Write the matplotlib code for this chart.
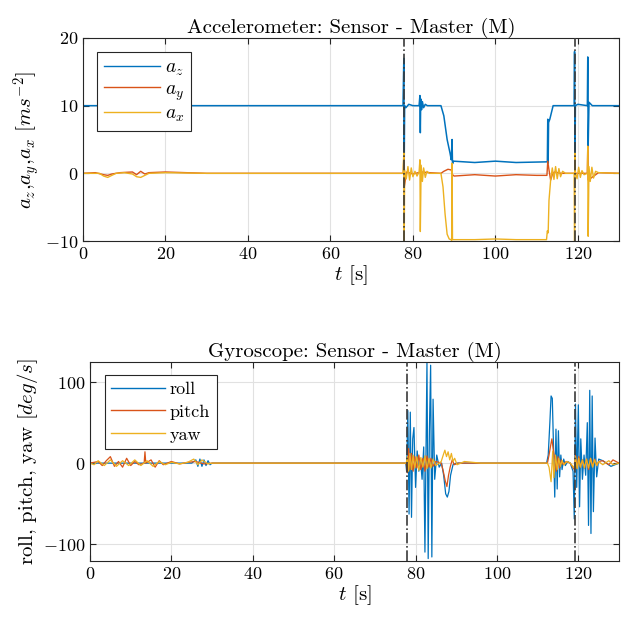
#!/usr/bin/env python3

import matplotlib
matplotlib.use('Agg')
from matplotlib import pyplot as plt


# accelerometer [m/s^2] (time in s)
t_az = [0, 20, 40, 60, 77.6, 77.8, 77.9, 78.0, 78.3, 79, 80, 81.5, 81.7,
        81.8, 81.9, 82.1, 82.3, 82.6, 83.0, 83.5, 86.8, 87.5, 88.3, 89.0,
        89.3, 89.5, 89.6, 89.8, 95, 100, 105, 112.6, 112.7, 112.8, 112.9,
        113.2, 114.0, 116, 119.1, 119.2, 119.3, 119.4, 120.0, 122.3, 122.4,
        122.5, 122.7, 123.5, 130]
az = [10, 10, 10, 10, 10, 17, 2, 10, 9.7, 10.2, 10, 10, 11.5,
      6, 11, 9.4, 10.6, 9.7, 10.2, 10, 10, 8.5, 5, 3,
      2, 5, 1.4, 1.8, 1.6, 1.8, 1.6, 1.7, 8, 1.5, 7.5,
      8, 10, 10, 10, 18, 1, 10, 10.2, 10, 17.2,
      4, 10.5, 10, 10]

t_ay = [0, 3, 5, 6, 7, 9, 12, 13, 14, 15, 16, 20, 25, 30, 77.7, 77.8, 77.9,
        78.5, 80, 82, 84, 86.8, 87.5, 88.5, 89.3, 89.6, 90, 95, 100, 105,
        110, 112.5, 112.7, 113.0, 113.4, 113.8, 114.3, 116, 119.2, 119.3,
        122.3, 122.4, 122.5, 125, 130]
ay = [0, 0.1, -0.2, -0.3, -0.1, 0.1, 0.2, -0.2, 0.3, -0.1, 0.1, 0.2, 0.1,
      0, 0, 3, -2, 0.2, -0.1, 0.2, 0.1, 0, 0.3, 0.6, 0.5, -0.2, -0.4, -0.2,
      -0.4, -0.2, -0.3, -0.3, 1.8, 0.5, -1.0, -0.2, 0.2, 0, 0, 0, 0, 4, -1,
      0.1, 0]

t_ax = [0, 4, 5, 6, 7, 8, 10, 12, 13, 14, 15, 16, 20, 30, 77.6, 77.8, 77.9,
        78.0, 78.4, 78.8, 79.2, 79.6, 80, 80.5, 81, 81.5, 81.7, 81.8, 82.0,
        82.3, 82.6, 83.0, 83.4, 84, 86.8, 87.3, 87.8, 88.3, 88.8, 89.2, 89.4,
        89.5, 89.6, 89.8, 95, 100, 105, 112.4, 112.6, 112.8, 113.0, 113.4,
        113.8, 114.2, 114.6, 115.0, 115.4, 115.8, 116.3, 117, 119.1, 119.2,
        119.3, 119.4, 119.8, 120.2, 120.6, 121, 121.5, 122.3, 122.4, 122.5,
        122.7, 123.0, 123.4, 123.8, 124.3, 125, 130]
ax_ = [0, 0, -0.4, -0.6, -0.3, 0, 0.1, -0.1, -0.5, -0.6, -0.3, 0, 0.1, 0,
       0, 3, -10, 0.5, -0.8, 1.0, -1.0, 0.8, -0.5, 0.3, -0.4, 0.2, 2,
       -8.6, 1.2, -1.2, 0.8, -0.6, 0.3, 0, 0, -2, -6, -9, -9.7, -9.8, -9.9,
       1.5, -9.8, -9.8, -9.8, -9.7, -9.8, -9.8, -8.5, -8.8, -4, -1, 0.8,
       -0.9, 1.0, -0.8, 0.7, -0.5, 0.3, 0, 0, -10, 3, 0.2, -0.8, 0.9,
       -0.6, 0.4, -0.2, 0, 4, -9.3, 1.0, -1.2, 0.9, -0.7, 0.3, 0.1, 0]

# gyroscope [deg/s]
t_roll = [0, 25, 26, 26.5, 27, 27.5, 28, 28.5, 29, 29.5, 30, 77.6, 77.8,
          78.1, 78.4, 78.7, 79.0, 79.3, 79.6, 80.0, 80.4, 80.8, 81.2, 81.6,
          82.0, 82.3, 82.8, 83.1, 83.4, 83.7, 84.0, 84.3, 84.7, 85.2, 85.8,
          86.4, 86.9, 87.4, 87.8, 88.2, 88.6, 89.2, 90, 112.2, 112.6, 113.0,
          113.3, 113.6, 113.9, 114.2, 114.5, 114.8, 115.1, 115.4, 115.7,
          116.0, 116.4, 116.8, 117.4, 118, 118.7, 119.0, 119.3, 119.6, 120.0,
          120.3, 120.6, 121.0, 121.4, 121.8, 122.2, 122.5, 122.8, 123.1,
          123.4, 123.7, 124.1, 124.5, 125, 126, 128, 130]
roll = [0, 0, 4, -4, 5, -4, 4, -3, 3, -2, 0, 0, -10,
        65, -63, 63, -67, 30, 44, -30, 15, -10, 5, -20,
        20, -110, 125, -118, 40, 121, -116, 79, -20, 10, -5,
        0, -15, -38, -42, -35, -15, -2, 0, 0, 10, 50,
        83, 80, 20, -42, 42, -32, 40, -17, 10,
        -8, 5, -3, 2, 0, -10, -69, 73, -30, 72,
        -54, 30, -20, 10, -15, 50, -77, 90, -87,
        83, -60, 31, -17, 5, 3, -4, 0]

t_pitch = [0, 2, 3, 4, 5, 6, 7, 8, 9, 10, 11, 12, 13.3, 13.5, 13.7, 15, 16,
           17, 18, 20, 22, 24, 26, 28, 30, 77.7, 78.0, 78.3, 78.6, 79.0,
           79.4, 79.8, 80.3, 80.8, 81.3, 81.8, 82.3, 82.8, 83.3, 83.8, 84.3,
           85, 86.3, 86.8, 87.3, 87.7, 88.1, 88.5, 89.0, 89.5, 90.5, 112.4,
           112.8, 113.2, 113.5, 113.8, 114.2, 114.6, 115.0, 115.4, 115.8,
           116.3, 117, 118, 119.0, 119.3, 119.7, 120.1, 120.5, 121.0, 121.5,
           122.0, 122.5, 123.0, 123.5, 124.0, 124.5, 125.0, 126, 127.5,
           128.5, 130]
pitch = [0, 2, -3, 3, 8, -4, 2, -5, 6, -3, 2, -2, 0, 14, 0, 4, -5,
         3, -2, 2, -1, 1, 2, -1, 0, 0, -12, 18, -8, 12,
         -10, 8, -6, 10, -8, 6, -10, 9, -5, 6, -4,
         2, 0, -10, -22, -29, -15, -5, 4, -2, 0, 0,
         10, 22, 30, 18, 5, -10, 8, -6, 4,
         -2, 2, 0, -8, 10, -6, 8, -5, 4, -6,
         5, -8, 6, -4, 5, -3, 2, 3, -2,
         4, 0]

t_yaw = [0, 1, 2, 3.5, 5, 6.5, 8, 9.5, 11, 12.5, 14, 15.5, 17, 18.5, 20, 22,
         24, 25.5, 26.5, 27.5, 29, 30, 77.7, 78.0, 78.3, 78.6, 79.0, 79.4,
         79.8, 80.3, 80.8, 81.3, 81.8, 82.3, 82.8, 83.3, 83.8, 84.3, 85,
         86.3, 86.8, 87.2, 87.6, 88.0, 88.4, 88.8, 89.2, 89.6, 90.2, 92, 96,
         100, 112.4, 112.8, 113.3, 113.7, 114.0, 114.4, 114.8, 115.2, 115.6,
         116.0, 116.5, 117.2, 118, 119.0, 119.3, 119.7, 120.1, 120.5, 121.0,
         121.5, 122.0, 122.5, 123.0, 123.5, 124.0, 124.5, 125.0, 126, 127.5,
         128.5, 130]
yaw = [0, -2, 3, -3, 4, -4, 3, -3, 4, -3, 3, -4, 2, -2, 1, -1,
       1, 5, -2, 4, -1, 0, 0, 8, -10, 12, -8, 10,
       -6, 8, -9, 7, -5, 9, -7, 6, -6, 5, -3,
       2, 10, 16, 8, 14, 4, 12, 2, 6, -2, 2, 0,
       0, 0, -5, -23, 15, -18, 10, -8, 6, -4,
       3, -2, 2, 0, -6, 8, -7, 6, -5, 4,
       -6, 5, -6, 6, -5, 4, -3, 2, -2, 3,
       -2, 0]

event_times = [77.9, 119.2]

blue = '#0072BD'
red = '#D95319'
yellow = '#EDB120'

plt.rcParams['font.family'] = 'serif'
plt.rcParams['font.serif'] = ['cmr10']
plt.rcParams['mathtext.fontset'] = 'cm'
plt.rcParams['axes.formatter.use_mathtext'] = True
plt.rcParams['axes.unicode_minus'] = True


def style_axes(ax):
    ax.set_xlim(0, 130)
    ax.grid(True, color='#e1e1e1', linewidth=0.8)
    ax.set_axisbelow(True)
    ax.tick_params(direction='in', top=True, right=True, labelsize=13,
                   color='#262626', length=4)
    for s in ax.spines.values():
        s.set_color('#262626')
        s.set_linewidth(0.8)
    for t in event_times:
        ax.axvline(t, color='#3a3a3a', linestyle='-.', linewidth=1.2, zorder=5)
    ax.set_xlabel(r'$t$ [s]', fontsize=15, labelpad=1)


def add_legend(ax, anchor, size, hlen, spacing):
    leg = ax.legend(loc='upper left', bbox_to_anchor=anchor, fontsize=size,
                    fancybox=False, edgecolor='#262626', framealpha=1,
                    handlelength=hlen, borderpad=0.35, labelspacing=spacing,
                    handletextpad=0.25, borderaxespad=0)
    leg.get_frame().set_linewidth(0.8)
    for line in leg.get_lines():
        line.set_linewidth(1.0)


fig = plt.figure(figsize=(6.3, 6.25), dpi=100)

ax1 = fig.add_axes([0.1317, 0.6144, 0.851, 0.3248])
ax1.plot(t_az, az, color=blue, linewidth=1.1, label=r'$a_z$')
ax1.plot(t_ay, ay, color=red, linewidth=1.0, label=r'$a_y$')
ax1.plot(t_ax, ax_, color=yellow, linewidth=1.0, label=r'$a_x$')
ax1.set_ylim(-10, 20)
ax1.set_yticks([-10, 0, 10, 20])
style_axes(ax1)
ax1.set_title('Accelerometer: Sensor - Master (M)', fontsize=15, pad=4)
ax1.set_ylabel(r'$a_z$,$a_y$,$a_x$ $[ms^{-2}]$', fontsize=15, labelpad=2)
add_legend(ax1, (0.026, 0.931), 14, 2.9, 0.12)

ax2 = fig.add_axes([0.1429, 0.1024, 0.8397, 0.3184])
ax2.plot(t_roll, roll, color=blue, linewidth=0.9, label='roll')
ax2.plot(t_pitch, pitch, color=red, linewidth=0.9, label='pitch')
ax2.plot(t_yaw, yaw, color=yellow, linewidth=0.9, label='yaw')
ax2.set_ylim(-121, 125)
ax2.set_yticks([-100, 0, 100])
style_axes(ax2)
ax2.set_title('Gyroscope: Sensor - Master (M)', fontsize=15, pad=4)
ax2.set_ylabel(r'roll, pitch, yaw $[deg/s]$', fontsize=15, labelpad=2)
add_legend(ax2, (0.028, 0.935), 13, 3.0, 0.4)

fig.savefig('out.png', dpi=100)
